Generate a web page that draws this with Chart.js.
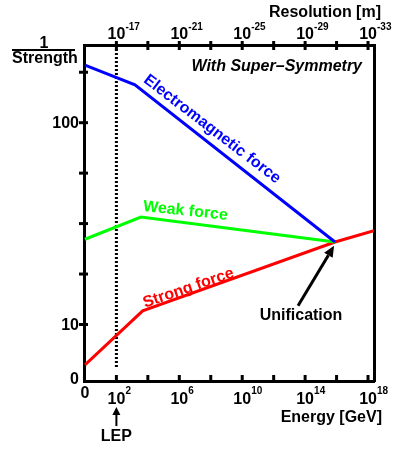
<!DOCTYPE html>
<html>
<head>
<meta charset="utf-8">
<script src="https://cdn.jsdelivr.net/npm/chart.js@4.4.0/dist/chart.umd.min.js"></script>
<style>
    html, body { margin: 0; padding: 0; background: #fff; }
    #wrap { position: relative; width: 396px; height: 449px; }
</style>
</head>
<body>
<div id="wrap"><canvas id="chart"></canvas></div>
<script>
// x = log10(Energy / GeV), y = position on the 1/Strength axis (tick units)
const emX = [0, 3.18, 15.9];
const emY = [6.14, 5.75, 2.635];
const weakX = [0, 3.56, 15.9];
const weakY = [2.69, 3.13, 2.635];
const strongX = [0, 3.67, 15.9, 18.38];
const strongY = [0.20, 1.27, 2.635, 2.86];
const lepX = [2, 2];
const lepY = [6.54, 0.14];

// axes
const energyTicks = [2, 4, 6, 8, 10, 12, 14, 16, 18];
const energyLabelPos = [2, 6, 10, 14, 18];
const energyLabelExp = ['2', '6', '10', '14', '18'];
const resolutionLabelPos = [2, 6, 10, 14, 18];
const resolutionLabelExp = ['-17', '-21', '-25', '-29', '-33'];
const strengthTicks = [1, 2, 3, 4, 5, 6];
const strengthLabelPos = [1, 5];
const strengthLabels = ['10', '100'];

const FONT = "'Liberation Sans', Arial, Helvetica, sans-serif";

const toPoints = (xs, ys) => xs.map((v, i) => ({ x: v, y: ys[i] }));

/**
 * Frame ticks, tick labels with exponents, titles and annotations
 */
const decorations = {
    id: 'decorations',
    afterDraw(chart) {
        const { ctx, chartArea: ca } = chart;
        const { x, y } = chart.scales;
        ctx.save();

        const line = (x1, y1, x2, y2, w) => {
            ctx.lineWidth = w;
            ctx.beginPath();
            ctx.moveTo(x1, y1);
            ctx.lineTo(x2, y2);
            ctx.stroke();
        };
        const arrow = (x1, y1, x2, y2, w, head, half) => {
            const a = Math.atan2(y2 - y1, x2 - x1);
            const bx = x2 - head * Math.cos(a), by = y2 - head * Math.sin(a);
            line(x1, y1, bx, by, w);
            ctx.beginPath();
            ctx.moveTo(x2, y2);
            ctx.lineTo(bx + half * Math.sin(a), by - half * Math.cos(a));
            ctx.lineTo(bx - half * Math.sin(a), by + half * Math.cos(a));
            ctx.closePath();
            ctx.fill();
        };
        const text = (str, px, py, font, color, align, base, angle) => {
            ctx.save();
            ctx.translate(px, py);
            if (angle) ctx.rotate(angle * Math.PI / 180);
            ctx.font = font;
            ctx.fillStyle = color;
            ctx.textAlign = align || 'center';
            ctx.textBaseline = base || 'alphabetic';
            ctx.fillText(str, 0, 0);
            ctx.restore();
        };
        const power = (exp, px, baseY, expY) => {
            text('10', px, baseY, `bold 16px ${FONT}`, '#000', 'center');
            text(exp, px + 9, expY, `bold 10px ${FONT}`, '#000', 'left');
        };

        ctx.strokeStyle = '#000';
        ctx.fillStyle = '#000';

        // tick marks straddling the frame
        energyTicks.forEach(v => {
            const px = x.getPixelForValue(v);
            line(px, ca.bottom - 6, px, ca.bottom + 2, 3);
            line(px, ca.top - 4, px, ca.top + 5, 3);
        });
        strengthTicks.forEach(v => {
            const py = y.getPixelForValue(v);
            line(ca.left - 5, py, ca.left + 4, py, 3);
        });

        // energy labels (bottom)
        text('0', x.getPixelForValue(0), 398, `bold 16px ${FONT}`, '#000', 'center');
        energyLabelPos.forEach((v, i) => power(energyLabelExp[i], x.getPixelForValue(v), 404, 394));
        text('Energy [GeV]', 382, 422, `bold 16px ${FONT}`, '#000', 'right');

        // resolution labels (top)
        resolutionLabelPos.forEach((v, i) => power(resolutionLabelExp[i], x.getPixelForValue(v), 39, 30));
        text('Resolution [m]', 381, 17, `bold 16px ${FONT}`, '#000', 'right');

        // strength labels (left)
        text('0', 79, 380, `bold 16px ${FONT}`, '#000', 'right', 'middle');
        strengthLabelPos.forEach((v, i) => {
            text(strengthLabels[i], 79, y.getPixelForValue(v) + 1, `bold 16px ${FONT}`, '#000', 'right', 'middle');
        });
        text('1', 44, 48, `bold 16px ${FONT}`, '#000', 'center');
        line(12, 50, 75, 50, 2);
        text('Strength', 45, 63, `bold 16px ${FONT}`, '#000', 'center');

        // annotations
        text('With Super\u2013Symmetry', 362, 71, `italic bold 16px ${FONT}`, '#000', 'right');
        text('Electromagnetic force', x.getPixelForValue(8.08), y.getPixelForValue(4.87),
            `bold 16px ${FONT}`, '#0000ff', 'center', 'middle', 37.5);
        text('Weak force', x.getPixelForValue(6.39), y.getPixelForValue(3.25),
            `bold 16px ${FONT}`, '#00ff00', 'center', 'middle', 6);
        text('Strong force', x.getPixelForValue(6.58), y.getPixelForValue(1.72),
            `bold 16px ${FONT}`, '#ff0000', 'center', 'middle', -19);
        text('Unification', x.getPixelForValue(13.74), y.getPixelForValue(1.17),
            `bold 16px ${FONT}`, '#000', 'center', 'middle');
        arrow(x.getPixelForValue(13.55), y.getPixelForValue(1.37),
              x.getPixelForValue(15.84), y.getPixelForValue(2.56), 3, 11, 5);

        // LEP marker
        const lepPx = x.getPixelForValue(2);
        arrow(lepPx, 426, lepPx, 407, 2, 8, 4);
        text('LEP', lepPx, 437, `bold 16px ${FONT}`, '#000', 'center', 'middle');

        ctx.restore();
    }
};

const axisBase = {
    type: 'linear',
    ticks: { display: false },
    grid: { display: true, drawOnChartArea: false, drawTicks: false },
    border: { color: '#000', width: 3 }
};

new Chart(document.getElementById('chart'), {
    type: 'line',
    data: {
        datasets: [
            { data: toPoints(emX, emY), borderColor: '#0000ff', borderWidth: 3 },
            { data: toPoints(weakX, weakY), borderColor: '#00ff00', borderWidth: 3 },
            { data: toPoints(strongX, strongY), borderColor: '#ff0000', borderWidth: 3 },
            { data: toPoints(lepX, lepY), borderColor: '#000', borderWidth: 3, borderDash: [2, 2] }
        ]
    },
    options: {
        responsive: true,
        maintainAspectRatio: false,
        animation: false,
        layout: { padding: 0 },
        elements: { point: { radius: 0 }, line: { tension: 0, borderCapStyle: 'butt' } },
        plugins: { legend: { display: false }, tooltip: { enabled: false } },
        scales: {
            x: { ...axisBase, position: 'bottom', min: -0.06, max: 18.38, afterFit: s => { s.height = 68; } },
            x2: { ...axisBase, position: 'top', min: -0.06, max: 18.38, afterFit: s => { s.height = 45; } },
            y: { ...axisBase, position: 'left', min: -0.12, max: 6.54, afterFit: s => { s.width = 84; } },
            y2: { ...axisBase, position: 'right', min: -0.12, max: 6.54, afterFit: s => { s.width = 22; } }
        }
    },
    plugins: [decorations]
});
</script>
</body>
</html>
